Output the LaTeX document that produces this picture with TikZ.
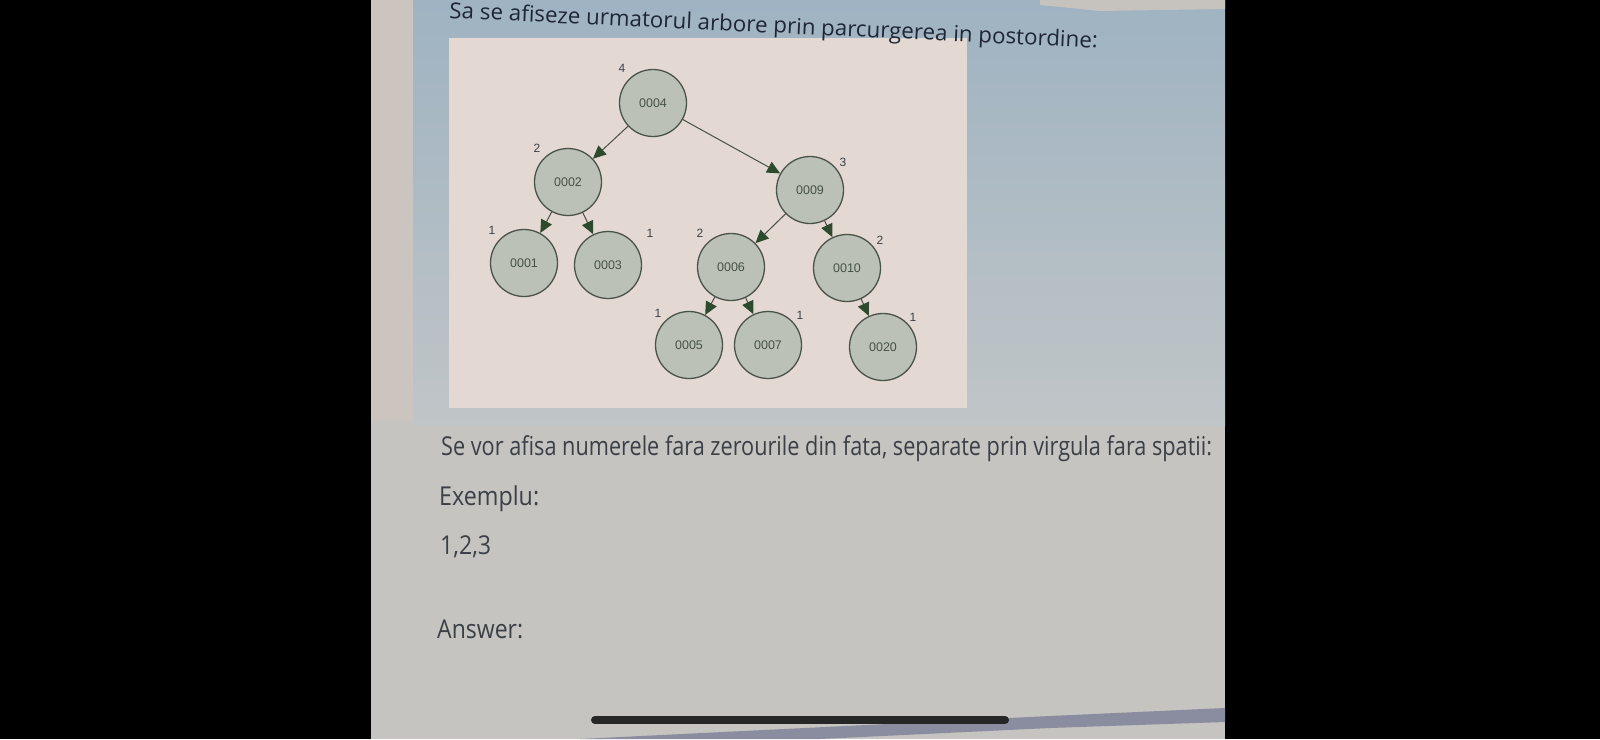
\documentclass[tikz,border=0pt]{standalone}
\usepackage{fontspec}
\usepackage{graphicx}
\setmainfont{Open Sans}
\newfontfamily\treefont{Liberation Sans}
\usetikzlibrary{arrows.meta}
\newlength\fitlen
\newcommand\fitw[2]{\settowidth\fitlen{#2}\pgfmathsetmacro\fitr{#1/\fitlen}\scalebox{\fitr}[1]{#2}}
\definecolor{scr}{HTML}{C5C4C0}
\definecolor{strip}{HTML}{CCC5BF}
\definecolor{bluetop}{HTML}{9FB3C2}
\definecolor{bluebot}{HTML}{C0C5C7}
\definecolor{panel}{HTML}{E3D9D2}
\definecolor{nodefill}{HTML}{BCC1B7}
\definecolor{nodeline}{HTML}{4B5249}
\definecolor{nodetext}{HTML}{465246}
\definecolor{arrowc}{HTML}{2E4A2E}
\definecolor{edgec}{HTML}{4A4D46}
\definecolor{navy}{HTML}{1E2636}
\definecolor{txt}{HTML}{3B3F46}
\definecolor{band}{HTML}{8A8CA0}
\definecolor{topsliver}{HTML}{C6C3BE}
\begin{document}
\begin{tikzpicture}[x=1pt,y=-1pt,
  tn/.style={circle, draw=nodeline, fill=nodefill, line width=1.3pt, minimum size=67pt, inner sep=0pt,
    font=\treefont\fontsize{12.5}{12.5}\selectfont, text=nodetext},
  dl/.style={inner sep=0pt, font=\treefont\fontsize{12}{12}\selectfont, text=txt},
  edge/.style={draw=edgec, line width=1pt, -{Triangle[length=13pt,width=12pt,color=arrowc,fill=arrowc]}},
  ptxt/.style={anchor=base west, text=txt, inner sep=0pt, font=\fontsize{26}{26}\selectfont}
]
\useasboundingbox (0,0) rectangle (1600,739);
% background / photo
\fill[black] (0,0) rectangle (1600,739);
\fill[scr] (371,0) rectangle (1225,739);
\fill[strip] (371,0) rectangle (413,420);
\shade[top color=bluetop, bottom color=bluebot] (413,0) rectangle (1225,425);
\fill[topsliver] (1040,0) -- (1225,0) -- (1225,9) -- (1100,11) -- (1040,5) -- cycle;
\fill[band] (580,739) -- (1050,716) -- (1225,708) -- (1225,722) -- (1050,728) -- (820,739) -- cycle;
\fill[black!85] (595,716) rectangle (1005,724);
\fill[black!85] (595,720) circle (4pt) (1005,720) circle (4pt);
% tree panel
\fill[panel] (449,38) rectangle (967,408);
% nodes
\node[tn] (n4)  at (653,103) {0004};
\node[tn] (n2)  at (568,182) {0002};
\node[tn] (n9)  at (810,190) {0009};
\node[tn] (n1)  at (524,263) {0001};
\node[tn] (n3)  at (608,265) {0003};
\node[tn] (n6)  at (731,267) {0006};
\node[tn] (n10) at (847,268) {0010};
\node[tn] (n5)  at (689,345) {0005};
\node[tn] (n7)  at (768,345) {0007};
\node[tn] (n20) at (883,347) {0020};
% edges
\draw[edge] (n4) -- (n2);
\draw[edge] (n4) -- (n9);
\draw[edge] (n2) -- (n1);
\draw[edge] (n2) -- (n3);
\draw[edge] (n9) -- (n6);
\draw[edge] (n9) -- (n10);
\draw[edge] (n6) -- (n5);
\draw[edge] (n6) -- (n7);
\draw[edge] (n10) -- (n20);
% depth labels
\node[dl] (d4)  at (622,68) {4};
\node[dl] (d2)  at (537,148) {2};
\node[dl] (d9)  at (843,162) {3};
\node[dl] (d1)  at (492,230) {1};
\node[dl] (d3)  at (650,233) {1};
\node[dl] (d6)  at (700,233) {2};
\node[dl] (d10) at (880,240) {2};
\node[dl] (d5)  at (658,313) {1};
\node[dl] (d7)  at (800,315) {1};
\node[dl] (d20) at (913,317) {1};
% page text
\node[anchor=base west, inner sep=0pt, rotate=-2.65, text=navy, font=\fontsize{22}{22}\selectfont] (title) at (449,18)
  {\fitw{649}{Sa se afiseze urmatorul arbore prin parcurgerea in postordine:}};
\node[ptxt] (q)   at (441,455) {\fitw{771}{Se vor afisa numerele fara zerourile din fata, separate prin virgula fara spatii:}};
\node[ptxt] (ex)  at (439,505) {\fitw{100}{Exemplu:}};
\node[ptxt] (ex2) at (440,554) {\fitw{51}{1,2,3}};
\node[ptxt] (ans) at (437,638) {\fitw{86}{Answer:}};
\end{tikzpicture}
\end{document}
